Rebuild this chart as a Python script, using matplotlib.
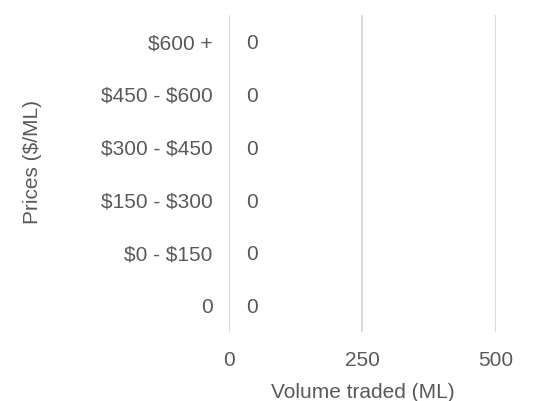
import numpy as np
import matplotlib.pyplot as plt

plt.rcParams['font.family'] = ['Liberation Sans', 'DejaVu Sans']
plt.rcParams['text.parse_math'] = False

# price brackets, bottom to top, and traded volume in each
price_bands = ['0', '$0 - $150', '$150 - $300', '$300 - $450', '$450 - $600', '$600 +']
volumes = [0, 0, 0, 0, 0, 0]
x_ticks = [0, 250, 500]

txt = '#595959'
grid = '#d9d9d9'
fs = 15

fig = plt.figure(figsize=(5.39, 4.01), dpi=100)
ax = fig.add_axes([0.425, 0.172, 0.495, 0.79])

y = np.arange(len(price_bands))
ax.barh(y, volumes, height=0.6, color='#4472c4', zorder=3)

# value labels just right of each (empty) bar
for yi, v in zip(y, volumes):
    ax.annotate(str(v), (v, yi), xytext=(12, 0), textcoords='offset points',
                ha='left', va='center_baseline', fontsize=fs, color=txt)

ax.set_xlim(0, 500)
ax.set_ylim(-0.5, len(price_bands) - 0.5)
ax.set_xticks(x_ticks)
ax.set_yticks(y)
ax.set_yticklabels(price_bands, va='center_baseline')
ax.tick_params(axis='both', length=0, labelsize=fs, labelcolor=txt)
ax.tick_params(axis='x', pad=14)
ax.tick_params(axis='y', pad=12)

ax.grid(axis='x', color=grid, linewidth=1.4, zorder=0)
for s in ax.spines.values():
    s.set_visible(False)

ax.set_xlabel('Volume traded (ML)', fontsize=fs, color=txt, labelpad=9)
ax.set_ylabel('Prices ($/ML)', fontsize=fs, color=txt)
ax.yaxis.set_label_coords(-0.70, 0.536)

fig.savefig('out.png', dpi=100)
